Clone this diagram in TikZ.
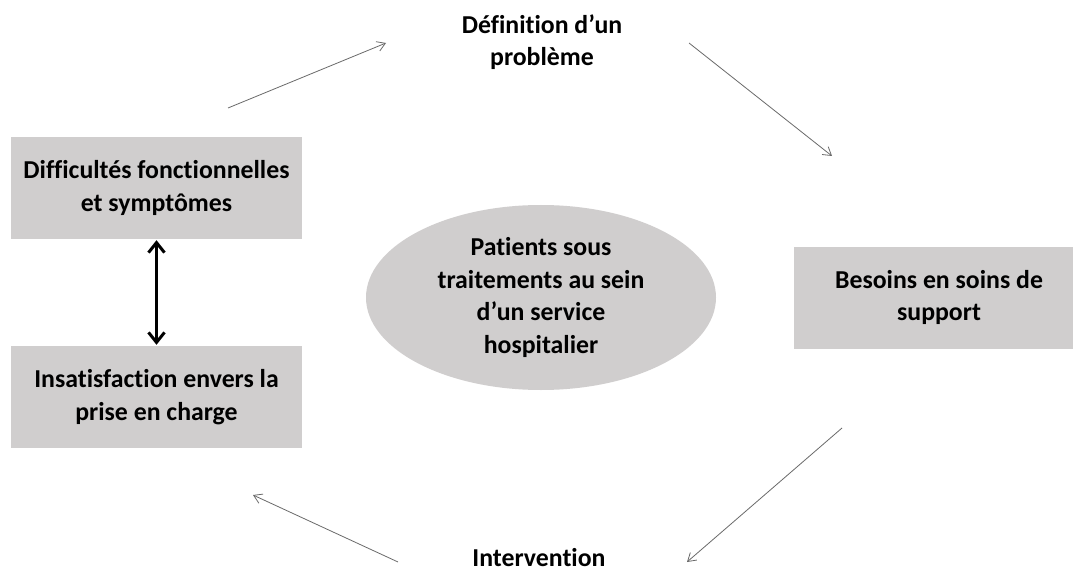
\documentclass[tikz,border=0pt]{standalone}
\usepackage{fontspec}
\setmainfont{Carlito}[Ligatures=NoCommon]
\usetikzlibrary{arrows.meta,shapes.geometric}
\definecolor{boxgray}{HTML}{D0CECE}
\definecolor{arrgray}{HTML}{6A6A6A}
\begin{document}
\begin{tikzpicture}[x=1pt,y=-1pt,
  lbl/.style={font=\fontsize{25.8}{32.5}\selectfont\bfseries, align=center, inner sep=0pt, text=black},
  grayrect/.style={lbl, rectangle, fill=boxgray, draw=none, minimum width=291pt, minimum height=102pt},
  grayell/.style={lbl, ellipse, fill=boxgray, draw=none, minimum width=350pt, minimum height=185pt},
  thinarrow/.style={draw=arrgray, line width=0.8pt, -{Straight Barb[length=8pt,width=10pt]}},
  boldarrow/.style={draw=black, line width=3pt, {Straight Barb[length=10pt,width=16pt]}-{Straight Barb[length=10pt,width=16pt]}, shorten <=1pt, shorten >=1pt}
]
\clip (0,0) rectangle (1073,572);
\fill[white] (0,0) rectangle (1073,572);

\node[grayrect] (diff) at (156.5,188) {Difficultés fonctionnelles\\et symptômes};
\node[grayrect] (insat) at (156.5,397) {Insatisfaction envers la\\prise en charge};
\node[grayrect] (besoins) at (939,297.5) {Besoins en soins de\\support};
\node[grayell] (patients) at (541,297.5) {Patients sous\\traitements au sein\\d’un service\\hospitalier};
\node[lbl] (defin) at (542,42) {Définition d’un\\problème};
\node[lbl] (interv) at (539,558) {Intervention};

\coordinate (a1s) at (228,108);
\coordinate (a1e) at (386,43);
\coordinate (a2s) at (689,43);
\coordinate (a2e) at (832,156);
\coordinate (a3s) at (842,428);
\coordinate (a3e) at (687,562);
\coordinate (a4s) at (398,562);
\coordinate (a4e) at (253,495);

\draw[thinarrow] (a1s) -- (a1e);
\draw[thinarrow] (a2s) -- (a2e);
\draw[thinarrow] (a3s) -- (a3e);
\draw[thinarrow] (a4s) -- (a4e);

\draw[boldarrow] (diff.south) -- (insat.north);
\end{tikzpicture}
\end{document}
